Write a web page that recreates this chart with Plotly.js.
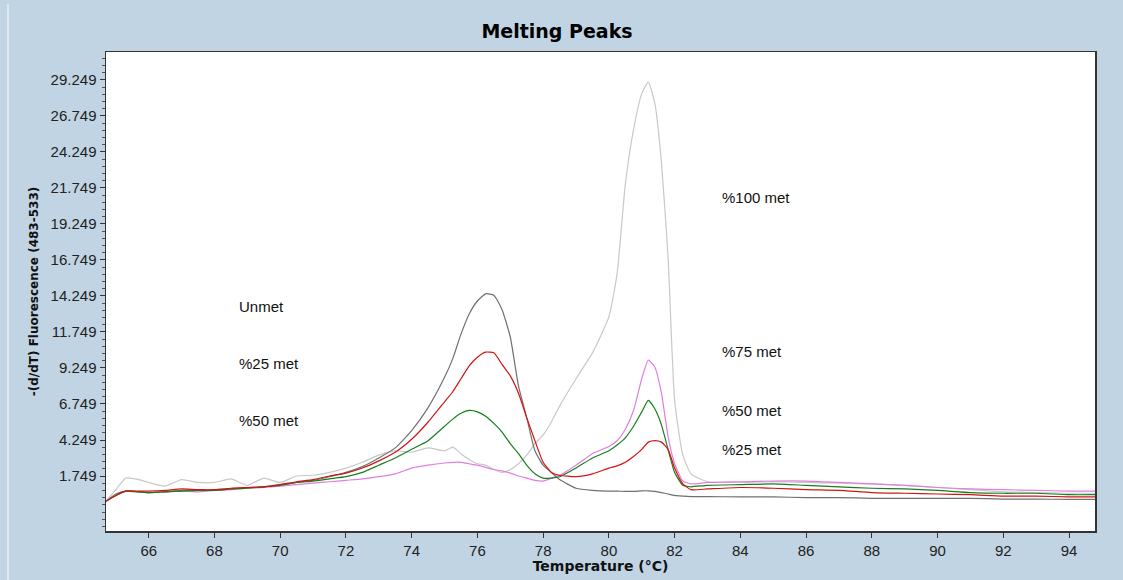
<!DOCTYPE html>
<html>
<head>
<meta charset="utf-8">
<script src="https://cdn.plot.ly/plotly-3.0.1.min.js"></script>
<style>
html,body{margin:0;padding:0;background:#c1d4e3;}
#chart{width:1123px;height:580px;}
</style>
</head>
<body>
<div id="chart"></div>
<script>
// Temperature grid (°C)
const temperature = [64.7,65.0,65.3,65.7,66,66.5,67,67.5,68,68.5,69,69.5,70,70.5,71,71.5,72,72.5,73,73.5,74,74.5,75,75.25,75.5,75.75,76,76.25,76.5,76.75,77,77.25,77.5,77.75,78,78.25,78.5,79,79.5,80,80.25,80.5,80.75,81,81.2,81.4,81.6,81.8,82,82.25,82.5,83,84,85,86,87,88,89,90,91,92,93,94,94.79];

// -(d/dT) Fluorescence (483-533) per sample
const met100 = [0.0,0.8,1.6,1.5,1.3,1.05,1.5,1.3,1.3,1.55,1.1,1.6,1.3,1.75,1.8,2.0,2.3,2.7,3.2,3.5,3.4,3.7,3.5,3.75,3.3,2.9,2.6,2.5,2.2,2.0,2.2,2.6,3.2,4.0,4.6,5.5,6.6,8.5,10.3,12.8,15.8,22.0,25.8,28.3,29.1,27.6,23.5,17.0,7.0,3.2,1.9,1.35,1.3,1.35,1.3,1.25,1.2,1.1,0.95,0.8,0.65,0.6,0.55,0.55];
const met75 = [0.0,0.4,0.7,0.65,0.6,0.65,0.7,0.65,0.75,0.8,0.9,0.95,1.05,1.15,1.25,1.35,1.45,1.55,1.7,1.9,2.3,2.5,2.65,2.7,2.7,2.6,2.5,2.35,2.2,2.1,1.95,1.75,1.6,1.45,1.4,1.6,1.8,2.5,3.3,3.8,4.2,5.0,6.3,8.5,9.8,9.3,7.5,4.5,2.6,1.4,1.2,1.3,1.35,1.4,1.4,1.3,1.2,1.1,0.95,0.85,0.8,0.75,0.7,0.7];
const unmet = [0.0,0.5,0.7,0.65,0.6,0.65,0.75,0.8,0.75,0.85,0.95,1.0,1.15,1.3,1.45,1.7,2.0,2.4,3.0,3.7,4.9,6.5,8.6,9.9,11.6,13.0,13.9,14.4,14.3,13.3,11.4,8.0,5.8,3.5,2.5,2.0,1.5,0.9,0.75,0.7,0.7,0.68,0.68,0.72,0.72,0.68,0.6,0.5,0.4,0.35,0.32,0.32,0.3,0.3,0.25,0.25,0.2,0.2,0.2,0.2,0.15,0.15,0.12,0.12];
const met50 = [0.0,0.4,0.7,0.65,0.6,0.65,0.7,0.75,0.75,0.85,0.9,1.0,1.1,1.3,1.4,1.55,1.7,2.0,2.5,3.0,3.6,4.2,5.2,5.7,6.1,6.3,6.2,5.9,5.4,4.8,4.0,3.3,2.5,1.9,1.6,1.6,1.7,2.3,3.0,3.5,3.9,4.4,5.2,6.2,7.0,6.4,5.3,3.6,2.0,1.1,1.0,1.1,1.15,1.2,1.1,1.0,0.9,0.85,0.75,0.6,0.55,0.55,0.45,0.45];
const met25 = [0.0,0.4,0.7,0.7,0.7,0.75,0.85,0.8,0.8,0.9,0.95,1.0,1.15,1.35,1.5,1.75,1.95,2.3,2.8,3.4,4.3,5.5,6.9,7.6,8.5,9.4,10.0,10.35,10.3,9.5,8.7,7.5,5.8,4.2,2.7,2.0,1.8,1.7,1.9,2.3,2.45,2.7,3.1,3.6,4.1,4.2,4.1,3.6,2.3,1.2,0.8,0.85,0.95,0.9,0.8,0.75,0.6,0.55,0.5,0.45,0.35,0.35,0.3,0.3];

const seriesNames = ['%100 met','%75 met','Unmet','%50 met','%25 met'];
const seriesValues = [met100, met75, unmet, met50, met25];
const seriesColors = ['#c8c8c8','#e07ee0','#707070','#14801a','#d41414'];

// Curve labels
const labelTexts = ['Unmet','%25 met','%50 met','%100 met','%75 met','%50 met','%25 met'];
const labelX = [68.7,68.7,68.7,83.38,83.38,83.38,83.38];
const labelY = [13.55,9.53,5.57,21.12,10.36,6.33,3.62];

const yTickVals = [1.749,4.249,6.749,9.249,11.749,14.249,16.749,19.249,21.749,24.249,26.749,29.249];
const xTickVals = [66,68,70,72,74,76,78,80,82,84,86,88,90,92,94];

const traces = seriesValues.map((v,i)=>({
  x: temperature, y: v, type:'scatter', mode:'lines', name: seriesNames[i],
  line:{color: seriesColors[i], width:1.2, shape:'spline', smoothing:0.5}, hoverinfo:'skip'
}));

const annotations = labelTexts.map((t,i)=>({
  x: labelX[i], y: labelY[i], xref:'x', yref:'y', text:t, showarrow:false,
  xanchor:'left', yanchor:'middle', font:{family:'Liberation Sans, Arial', size:15, color:'#111'}
}));

const layout = {
  width:1123, height:580,
  paper_bgcolor:'#c1d4e3', plot_bgcolor:'#ffffff',
  margin:{l:106, r:28, t:52, b:49},
  showlegend:false,
  title:{text:'<b>Melting Peaks</b>', xref:'container', x:0.496, xanchor:'center', yref:'container', y:0.946, yanchor:'middle',
         font:{family:'DejaVu Sans, Verdana', size:19, color:'#000'}},
  xaxis:{
    range:[64.7,94.79], tickvals:xTickVals, ticktext:xTickVals.map(String),
    ticks:'outside', ticklen:5, tickcolor:'#333', showgrid:false, zeroline:false,
    showline:true, mirror:true, linecolor:'#333', linewidth:1.5,
    tickfont:{family:'Liberation Sans, Arial', size:15, color:'#222'},
    title:{text:'<b>Temperature (°C)</b>', standoff:2, font:{family:'DejaVu Sans, Verdana', size:14, color:'#111'}}
  },
  yaxis:{
    range:[-2.07,31.19], tickvals:yTickVals, ticktext:yTickVals.map(v=>v.toFixed(3)),
    ticks:'outside', ticklen:5, tickcolor:'#333', showgrid:false, zeroline:false,
    showline:true, mirror:true, linecolor:'#333', linewidth:1.5,
    minor:{dtick:0.5, tick0:1.749, ticks:'outside', ticklen:3, tickcolor:'#555', showgrid:false},
    tickfont:{family:'Liberation Sans, Arial', size:15, color:'#222'},
    title:{text:'<b>-(d/dT) Fluorescence (483-533)</b>', standoff:9, font:{family:'DejaVu Sans, Verdana', size:12, color:'#111'}}
  },
  shapes:[{type:'line', xref:'paper', yref:'paper', x0:-0.0991, x1:-0.0991, y0:-0.11, y1:1.1,
           line:{color:'#e6eef4', width:1.5}}],
  annotations: annotations
};

Plotly.newPlot('chart', traces, layout, {displayModeBar:false, staticPlot:true});
</script>
</body>
</html>
